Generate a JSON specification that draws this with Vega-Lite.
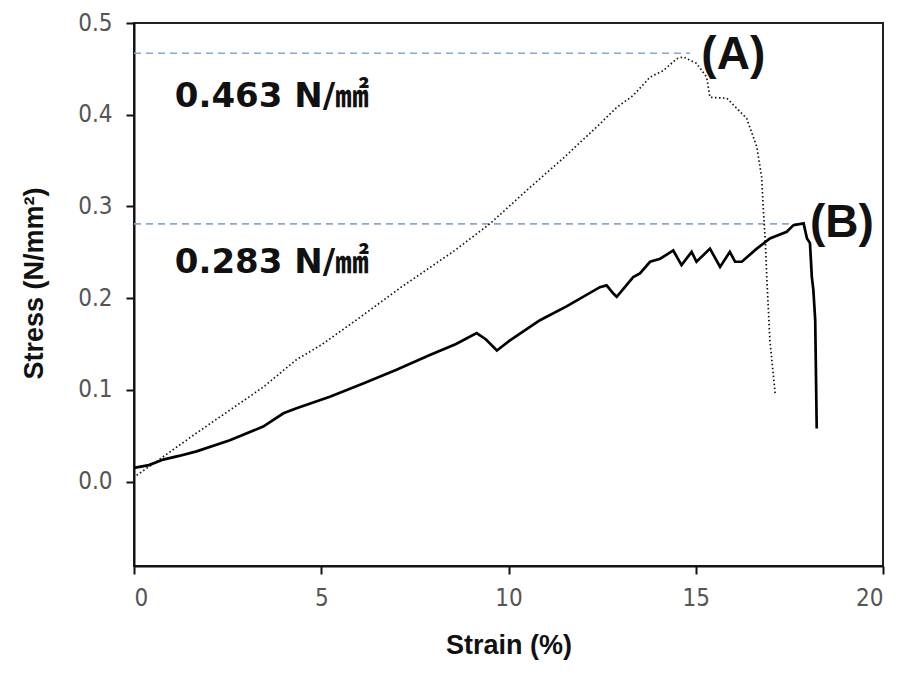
{
  "$schema": "https://vega.github.io/schema/vega-lite/v6.json",
  "width": 749,
  "height": 543,
  "autosize": {"type": "none"},
  "padding": {"left": 134, "top": 23, "right": 18, "bottom": 113},
  "background": "white",
  "config": {
    "view": {"stroke": "#222", "strokeWidth": 2},
    "axis": {
      "grid": false,
      "domainColor": "#111",
      "domainWidth": 2,
      "tickColor": "#111",
      "tickWidth": 2,
      "tickSize": 8,
      "labelFont": "DejaVu Sans Condensed, Liberation Sans Narrow, sans-serif",
      "labelFontSize": 24,
      "labelFontWeight": "normal",
      "labelColor": "#555",
      "titleFont": "Liberation Sans, Arial, sans-serif",
      "titleFontWeight": "bold",
      "titleFontSize": 27,
      "titleColor": "#111"
    }
  },
  "datasets": {
    "curves": [
      {"specimen": "A", "strain": 0.07, "stress": 0.007},
      {"specimen": "A", "strain": 0.5, "stress": 0.019},
      {"specimen": "A", "strain": 1.05, "stress": 0.035},
      {"specimen": "A", "strain": 1.67, "stress": 0.053},
      {"specimen": "A", "strain": 2.56, "stress": 0.078},
      {"specimen": "A", "strain": 3.45, "stress": 0.103},
      {"specimen": "A", "strain": 4.34, "stress": 0.133},
      {"specimen": "A", "strain": 5.0, "stress": 0.149},
      {"specimen": "A", "strain": 6.0, "stress": 0.178},
      {"specimen": "A", "strain": 7.1, "stress": 0.211},
      {"specimen": "A", "strain": 8.53, "stress": 0.251},
      {"specimen": "A", "strain": 9.5, "stress": 0.281},
      {"specimen": "A", "strain": 10.5, "stress": 0.318},
      {"specimen": "A", "strain": 11.5, "stress": 0.354},
      {"specimen": "A", "strain": 12.44, "stress": 0.39},
      {"specimen": "A", "strain": 12.89, "stress": 0.408},
      {"specimen": "A", "strain": 13.33, "stress": 0.421},
      {"specimen": "A", "strain": 13.78, "stress": 0.441},
      {"specimen": "A", "strain": 14.13, "stress": 0.448},
      {"specimen": "A", "strain": 14.49, "stress": 0.461},
      {"specimen": "A", "strain": 14.67, "stress": 0.463},
      {"specimen": "A", "strain": 15.02, "stress": 0.456},
      {"specimen": "A", "strain": 15.29, "stress": 0.441},
      {"specimen": "A", "strain": 15.38, "stress": 0.419},
      {"specimen": "A", "strain": 15.83, "stress": 0.418},
      {"specimen": "A", "strain": 16.36, "stress": 0.396},
      {"specimen": "A", "strain": 16.63, "stress": 0.365},
      {"specimen": "A", "strain": 16.76, "stress": 0.332},
      {"specimen": "A", "strain": 16.8, "stress": 0.3},
      {"specimen": "A", "strain": 16.86, "stress": 0.26},
      {"specimen": "A", "strain": 16.9, "stress": 0.22},
      {"specimen": "A", "strain": 16.98, "stress": 0.154},
      {"specimen": "A", "strain": 17.12, "stress": 0.096},
      {"specimen": "B", "strain": 0.0, "stress": 0.015},
      {"specimen": "B", "strain": 0.4, "stress": 0.018},
      {"specimen": "B", "strain": 0.78, "stress": 0.024},
      {"specimen": "B", "strain": 1.2, "stress": 0.028},
      {"specimen": "B", "strain": 1.67, "stress": 0.033},
      {"specimen": "B", "strain": 2.56, "stress": 0.045},
      {"specimen": "B", "strain": 3.45, "stress": 0.06},
      {"specimen": "B", "strain": 3.99, "stress": 0.0745},
      {"specimen": "B", "strain": 4.34, "stress": 0.08},
      {"specimen": "B", "strain": 5.23, "stress": 0.0926},
      {"specimen": "B", "strain": 6.12, "stress": 0.107},
      {"specimen": "B", "strain": 7.01, "stress": 0.122},
      {"specimen": "B", "strain": 7.9, "stress": 0.138},
      {"specimen": "B", "strain": 8.6, "stress": 0.15},
      {"specimen": "B", "strain": 9.15, "stress": 0.162},
      {"specimen": "B", "strain": 9.4, "stress": 0.155},
      {"specimen": "B", "strain": 9.69, "stress": 0.143},
      {"specimen": "B", "strain": 10.04, "stress": 0.154},
      {"specimen": "B", "strain": 10.84, "stress": 0.176},
      {"specimen": "B", "strain": 11.55, "stress": 0.191},
      {"specimen": "B", "strain": 12.44, "stress": 0.212},
      {"specimen": "B", "strain": 12.62, "stress": 0.214},
      {"specimen": "B", "strain": 12.8, "stress": 0.205},
      {"specimen": "B", "strain": 12.89, "stress": 0.2015},
      {"specimen": "B", "strain": 13.33, "stress": 0.223},
      {"specimen": "B", "strain": 13.51, "stress": 0.227},
      {"specimen": "B", "strain": 13.78, "stress": 0.2397},
      {"specimen": "B", "strain": 14.05, "stress": 0.243},
      {"specimen": "B", "strain": 14.4, "stress": 0.252},
      {"specimen": "B", "strain": 14.62, "stress": 0.236},
      {"specimen": "B", "strain": 14.89, "stress": 0.2505},
      {"specimen": "B", "strain": 15.02, "stress": 0.2397},
      {"specimen": "B", "strain": 15.38, "stress": 0.254},
      {"specimen": "B", "strain": 15.65, "stress": 0.234},
      {"specimen": "B", "strain": 15.91, "stress": 0.2505},
      {"specimen": "B", "strain": 16.05, "stress": 0.2397},
      {"specimen": "B", "strain": 16.23, "stress": 0.2397},
      {"specimen": "B", "strain": 16.63, "stress": 0.254},
      {"specimen": "B", "strain": 16.98, "stress": 0.265},
      {"specimen": "B", "strain": 17.43, "stress": 0.2724},
      {"specimen": "B", "strain": 17.61, "stress": 0.2796},
      {"specimen": "B", "strain": 17.88, "stress": 0.2815},
      {"specimen": "B", "strain": 17.97, "stress": 0.265},
      {"specimen": "B", "strain": 18.05, "stress": 0.26},
      {"specimen": "B", "strain": 18.1, "stress": 0.223},
      {"specimen": "B", "strain": 18.14, "stress": 0.209},
      {"specimen": "B", "strain": 18.19, "stress": 0.176},
      {"specimen": "B", "strain": 18.23, "stress": 0.058}
    ],
    "refs": [
      {"x0": 0, "x1": 14.85, "level": 0.467},
      {"x0": 0, "x1": 17.78, "level": 0.281}
    ],
    "values": [
      {"strain": 1.09, "stress": 0.408, "label": "0.463 N/㎟"},
      {"strain": 1.09, "stress": 0.227, "label": "0.283 N/㎟"}
    ],
    "names": [
      {"strain": 15.15, "stress": 0.4496, "label": "(A)"},
      {"strain": 18.05, "stress": 0.2665, "label": "(B)"}
    ]
  },
  "layer": [
    {
      "data": {"name": "refs"},
      "mark": {"type": "rule", "color": "#86a9cf", "strokeWidth": 1.6, "strokeDash": [7, 5]},
      "encoding": {
        "x": {"field": "x0", "type": "quantitative"},
        "x2": {"field": "x1"},
        "y": {"field": "level", "type": "quantitative"}
      }
    },
    {
      "data": {"name": "curves"},
      "transform": [{"filter": "datum.specimen === 'A'"}],
      "mark": {"type": "line", "color": "#111", "strokeWidth": 1.7, "strokeDash": [1.5, 2.5]},
      "encoding": {
        "x": {"field": "strain", "type": "quantitative"},
        "y": {"field": "stress", "type": "quantitative"},
        "order": {"field": "strain"}
      }
    },
    {
      "data": {"name": "curves"},
      "transform": [{"filter": "datum.specimen === 'B'"}],
      "mark": {"type": "line", "color": "#000", "strokeWidth": 2.7},
      "encoding": {
        "x": {
          "field": "strain", "type": "quantitative",
          "scale": {"domain": [0, 20], "nice": false},
          "axis": {"values": [0, 5, 10, 15, 20], "title": "Strain (%)", "labelPadding": 12, "titlePadding": 22}
        },
        "y": {
          "field": "stress", "type": "quantitative",
          "scale": {"domain": [-0.092, 0.5], "nice": false, "zero": false},
          "axis": {"values": [0, 0.1, 0.2, 0.3, 0.4, 0.5], "format": ".1f", "title": "Stress (N/mm²)", "labelPadding": 14, "titleX": -86, "titleY": 260}
        },
        "order": {"field": "strain"}
      }
    },
    {
      "data": {"name": "values"},
      "mark": {"type": "text", "align": "left", "baseline": "alphabetic", "font": "DejaVu Sans, Noto Sans CJK KR, sans-serif", "fontWeight": "bold", "fontSize": 34, "color": "#111"},
      "encoding": {
        "x": {"field": "strain", "type": "quantitative"},
        "y": {"field": "stress", "type": "quantitative"},
        "text": {"field": "label"}
      }
    },
    {
      "data": {"name": "names"},
      "mark": {"type": "text", "align": "left", "baseline": "alphabetic", "font": "Liberation Sans, Arial, sans-serif", "fontWeight": "bold", "fontSize": 46, "color": "#111"},
      "encoding": {
        "x": {"field": "strain", "type": "quantitative"},
        "y": {"field": "stress", "type": "quantitative"},
        "text": {"field": "label"}
      }
    }
  ]
}
